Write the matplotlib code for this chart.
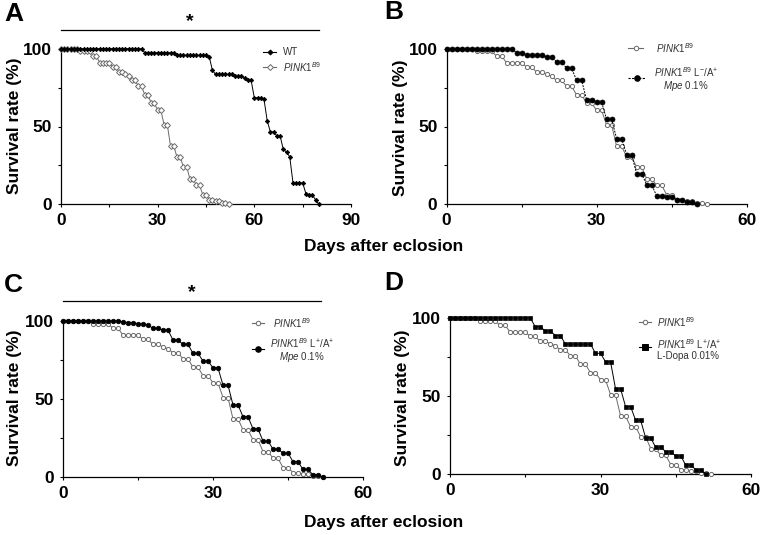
import numpy as np
import matplotlib
matplotlib.use("Agg")
import matplotlib.pyplot as plt
from matplotlib.lines import Line2D

plt.rcParams['font.family'] = ['Liberation Sans', 'DejaVu Sans']
plt.rcParams['mathtext.fontset'] = 'custom'
plt.rcParams['mathtext.rm'] = 'Liberation Sans'
plt.rcParams['mathtext.it'] = 'Liberation Sans:italic'
plt.rcParams['mathtext.bf'] = 'Liberation Sans:bold'

# ---------------- data (survival %, one value per day from day 0) ----------------
wt_surv = [100] * 26 + [97.4] * 10 + [95.7] * 10 + [94.8, 86.1] + [83.5] * 6 + [82.4] * 3 + \
          [81.3, 79.7, 79.7, 68.5, 68.5, 68.5, 67.5, 53.6, 46.5, 46.5, 43.9, 43.9, 35.3, 33.6, 30.4] + \
          [13.7] * 4 + [6.9, 5.8, 5.8, 3.0, 0.0]

pink1_surv = [100] * 6 + [98.3] * 4 + [95.3, 95.3] + [91.0] * 4 + [88.2, 88.2, 85.0, 85.0, 83.5, 82.2,
              79.7, 79.7, 75.8, 75.8, 70.4, 70.4, 65.0, 65.0, 60.4, 60.4, 51.0, 51.0, 37.3, 37.3,
              30.4, 30.4, 24.0, 24.0, 16.5, 16.5, 12.2, 12.2, 6.2, 6.2, 3.0, 3.0, 2.1, 1.9, 1.0, 1.0, 0.0]

mpe_lm_surv = [100] * 14 + [97.4, 97.4] + [95.7] * 4 + [94.6, 94.6, 91.6, 91.6, 87.4, 87.4, 79.7, 79.7,
               67.2, 67.2, 65.7, 65.7, 54.6, 54.6, 42.2, 42.2, 31.9, 31.9, 19.7, 19.7, 12.6, 12.6,
               5.4, 5.4, 4.7, 4.7, 3.0, 3.0, 1.6, 1.6, 0.0]

mpe_lp_surv = [100] * 12 + [99.4, 99.0, 99.0, 98.0, 98.0, 97.4, 95.3, 95.3, 94.2, 94.2, 87.8, 87.8,
               85.0, 85.0, 79.3, 79.3, 74.4, 74.4, 70.0, 70.0, 59.0, 59.0, 46.3, 46.3, 38.8, 38.8,
               31.0, 31.0, 23.2, 23.2, 18.0, 18.0, 15.5, 15.5, 10.0, 10.0, 5.0, 5.0, 1.6, 1.6, 0.0]

ldopa_surv = [100] * 17 + [94.4, 94.4, 91.7, 91.7, 88.8, 88.8] + [83.3] * 6 + [77.4, 77.4, 72.0, 72.0,
              54.7, 54.7, 43.3, 43.3, 34.6, 34.6, 23.3, 23.3, 17.3, 17.3, 14.5, 14.5, 11.7, 11.7,
              5.9, 5.9, 2.9, 2.9, 0.0]

panel_letters = ['A', 'B', 'C', 'D']
y_ticks = [0, 25, 50, 75, 100]
y_ticklabels = ['0', '', '50', '', '100']
xticks_a = [0, 15, 30, 45, 60, 75, 90]
xticklabels_a = ['0', '', '30', '', '60', '', '90']
xticks_b = [0, 15, 30, 45, 60]
xticklabels_b = ['0', '', '30', '', '60']

W, H = 763, 535
fig = plt.figure(figsize=(W / 100, H / 100), dpi=100)


def fx(x):
    return x / W


def fy(y):
    return 1 - y / H


def make_ax(x0, x1, y100, y0):
    return fig.add_axes([fx(x0), fy(y0), (x1 - x0) / W, (y0 - y100) / H])


GRAY = '#6a6a6a'


def style(ax, xmax, xt, xtl):
    ax.set_xlim(0, xmax)
    ax.set_ylim(0, 100)
    for s in ['top', 'right']:
        ax.spines[s].set_visible(False)
    for s in ['left', 'bottom']:
        ax.spines[s].set_linewidth(0.9)
    ax.set_xticks(xt)
    ax.set_xticklabels(xtl)
    ax.set_yticks(y_ticks)
    ax.set_yticklabels(y_ticklabels)
    ax.tick_params(direction='out', length=2.5, width=0.8, pad=4)
    for lab in ax.get_xticklabels() + ax.get_yticklabels():
        lab.set_fontsize(12.5)
        lab.set_fontweight('bold')


def plot_open(ax, vals, marker):
    d = np.arange(len(vals))
    ax.plot(d, vals, color=GRAY, lw=0.7, marker=marker, ms=3.0, mfc='white', mec=GRAY,
            mew=0.7, clip_on=False, zorder=3)


def plot_filled(ax, vals, marker, ms, ls='-'):
    d = np.arange(len(vals))
    ax.plot(d, vals, color='black', lw=0.7, ls=ls, marker=marker, ms=ms, mfc='black', mec='black',
            mew=0.5, clip_on=False, zorder=4)


def leg_entry(x0, x1, y, marker, filled, ms, ls='-'):
    col = 'black' if filled else GRAY
    fig.add_artist(Line2D([fx(x0), fx(x1)], [fy(y), fy(y)], transform=fig.transFigure,
                          color=col, lw=0.8, ls=ls))
    fig.add_artist(Line2D([fx((x0 + x1) / 2)], [fy(y)], transform=fig.transFigure,
                          marker=marker, ms=ms, mfc=col if filled else 'white', mec=col,
                          mew=0.7, lw=0))


PINK = r'$\mathit{PINK1}^{\mathit{B9}}$'
LEGC = '#333333'

# ---------------- Panel A ----------------
axA = make_ax(61, 351, 48.7, 204.3)
style(axA, 90, xticks_a, xticklabels_a)
plot_filled(axA, wt_surv, 'D', 2.3)
plot_open(axA, pink1_surv, 'D')
leg_entry(263, 276, 52, 'D', True, 2.5)
fig.text(fx(283), fy(52), 'WT', fontsize=7, color=LEGC, va='center', ha='left')
leg_entry(263, 276, 67, 'D', False, 3)
fig.text(fx(283), fy(67), PINK, fontsize=7, color=LEGC, va='center', ha='left')

# ---------------- Panel B ----------------
axB = make_ax(446.5, 746.7, 48.7, 204.3)
style(axB, 60, xticks_b, xticklabels_b)
plot_open(axB, pink1_surv, 'o')
plot_filled(axB, mpe_lm_surv, 'o', 3.6, ls=(0, (2, 1.2)))
leg_entry(628, 643, 48, 'o', False, 3.2)
fig.text(fx(656), fy(48), PINK, fontsize=7, color=LEGC, va='center', ha='left')
leg_entry(628, 645, 78, 'o', True, 4, ls=(0, (2, 1.2)))
fig.text(fx(686), fy(79), PINK + r' L$^{-}$/A$^{+}$' + '\n' + r'$\mathit{Mpe}$ 0.1%', fontsize=7,
         color=LEGC, va='center', ha='center', multialignment='center', linespacing=1.0)

# ---------------- Panel C ----------------
axC = make_ax(63, 363, 321, 477.3)
style(axC, 60, xticks_b, xticklabels_b)
plot_open(axC, pink1_surv, 'o')
plot_filled(axC, mpe_lp_surv, 'o', 3.3)
leg_entry(252, 264, 323, 'o', False, 3.2)
fig.text(fx(273), fy(323), PINK, fontsize=7, color=LEGC, va='center', ha='left')
leg_entry(252, 264, 349, 'o', True, 4)
fig.text(fx(302), fy(350), PINK + r' L$^{+}$/A$^{+}$' + '\n' + r'$\mathit{Mpe}$ 0.1%', fontsize=7,
         color=LEGC, va='center', ha='center', multialignment='center', linespacing=1.0)

# ---------------- Panel D ----------------
axD = make_ax(450, 751, 318, 474.3)
style(axD, 60, xticks_b, xticklabels_b)
plot_open(axD, pink1_surv, 'o')
plot_filled(axD, ldopa_surv, 's', 3.4)
leg_entry(639, 651, 322, 'o', False, 3.2)
fig.text(fx(657), fy(322), PINK, fontsize=7, color=LEGC, va='center', ha='left')
leg_entry(639, 651, 347, 's', True, 4)
fig.text(fx(657), fy(349), PINK + r' L$^{+}$/A$^{+}$' + '\n' + 'L-Dopa 0.01%', fontsize=7,
         color=LEGC, va='center', ha='left', multialignment='left', linespacing=1.0)

# ---------------- labels ----------------
for (x, y) in [(14.5, 126), (400.5, 128), (14.5, 398), (403, 398)]:
    fig.text(fx(x), fy(y), 'Survival rate (%)', rotation=90, fontsize=12.5, fontweight='bold',
             ha='center', va='center')
for y in [246, 523]:
    fig.text(fx(384), fy(y), 'Days after eclosion', fontsize=12.5, fontweight='bold',
             ha='center', va='center')
for letter, (x, y) in zip(panel_letters, [(13.5, 14), (393.5, 12), (13.5, 285), (393.5, 283)]):
    fig.text(fx(x), fy(y), letter, fontsize=19, fontweight='bold', ha='center', va='center')

# significance bars
for (x0, x1, y) in [(61, 318.5, 30), (63, 320.5, 301)]:
    fig.add_artist(Line2D([fx(x0), fx(x1)], [fy(y), fy(y)], transform=fig.transFigure,
                          color='black', lw=0.9))
    fig.text(fx((x0 + x1) / 2), fy(y - 8), '*', fontsize=14, fontweight='bold', ha='center',
             va='center')

fig.savefig('out.png', dpi=100)
